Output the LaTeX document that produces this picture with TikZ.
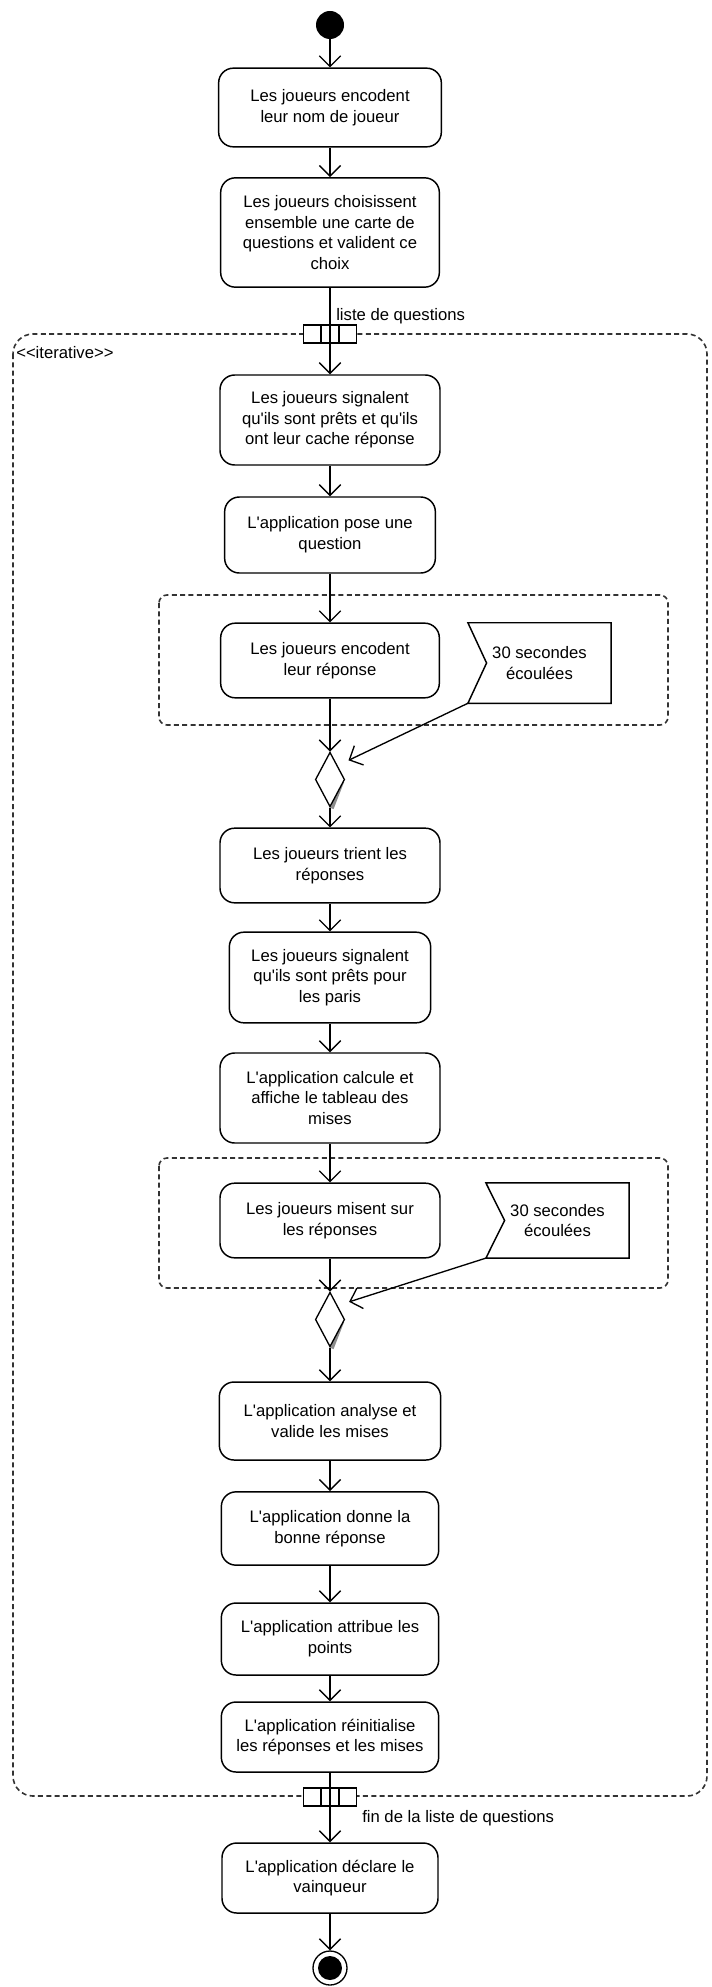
\documentclass[tikz,border=0pt]{standalone}
\usepackage{fontspec}
\setmainfont{Liberation Sans}
\usetikzlibrary{arrows.meta,shapes.geometric,calc}

\begin{document}
\begin{tikzpicture}[x=0.75pt,y=-0.75pt,
	font=\fontsize{12.5}{15.5}\selectfont,
	act/.style={draw,line width=1.1pt,rounded corners=11pt,align=center,inner sep=2pt},
	flow/.style={line width=1pt,-{Straight Barb[length=8pt,width=16pt]}},
	region/.style={draw=black!80,line width=1.2pt,dash pattern=on 3.75pt off 2.5pt},
	pinbox/.style={draw,line width=1pt,fill=white,minimum width=40pt,minimum height=13.5pt,inner sep=0pt},
	merge/.style={diamond,draw,line width=1pt,fill=white,minimum width=22pt,minimum height=41pt,inner sep=0pt},
	sigbox/.style={minimum width=107pt,align=center,inner sep=0pt},
	lbl/.style={anchor=west,inner sep=0pt}]
	\useasboundingbox (0,0) rectangle (711,1987);
	% regions
	\draw[region,rounded corners=15pt] (13,334) rectangle (707,1796);
	\draw[region,rounded corners=6pt] (159,595) rectangle (668,725);
	\draw[region,rounded corners=6pt] (159,1158) rectangle (668,1288);
	\node[lbl] (iter) at (16,353) {<{}<iterative>{}>};
	% actions
	\node[circle,fill,minimum size=21pt,inner sep=0pt] (start) at (330,25) {};
	\node[act,minimum width=167pt,minimum height=59pt] (a1) at (330,107.5) {Les joueurs encodent\\leur nom de joueur};
	\node[act,minimum width=164pt,minimum height=82pt] (a2) at (330,232.5) {Les joueurs choisissent\\ensemble une carte de\\questions et valident ce\\choix};
	\node[act,minimum width=165pt,minimum height=67.5pt] (a3) at (330,420) {Les joueurs signalent\\qu\textquotesingle ils sont prêts et qu\textquotesingle ils\\ont leur cache réponse};
	\node[act,minimum width=158pt,minimum height=57pt] (a4) at (330,535) {L\textquotesingle application pose une\\question};
	\node[act,minimum width=164pt,minimum height=56pt] (a5) at (330,660.5) {Les joueurs encodent\\leur réponse};
	\node[act,minimum width=165pt,minimum height=56pt] (a6) at (330,865.5) {Les joueurs trient les\\réponses};
	\node[act,minimum width=151pt,minimum height=68pt] (a7) at (330,977.5) {Les joueurs signalent\\qu\textquotesingle ils sont prêts pour\\les paris};
	\node[act,minimum width=165pt,minimum height=67.5pt] (a8) at (330,1098) {L\textquotesingle application calcule et\\affiche le tableau des\\mises};
	\node[act,minimum width=165pt,minimum height=56pt] (a9) at (330,1220.5) {Les joueurs misent sur\\les réponses};
	\node[act,minimum width=166pt,minimum height=58.5pt] (a10) at (330,1421) {L\textquotesingle application analyse et\\valide les mises};
	\node[act,minimum width=163pt,minimum height=55pt] (a11) at (330,1528.5) {L\textquotesingle application donne la\\bonne réponse};
	\node[act,minimum width=163pt,minimum height=54pt] (a12) at (330,1639) {L\textquotesingle application attribue les\\points};
	\node[act,minimum width=163pt,minimum height=52.5pt] (a13) at (330,1737) {L\textquotesingle application réinitialise\\les réponses et les mises};
	\node[act,minimum width=162pt,minimum height=52.5pt] (a14) at (330,1878) {L\textquotesingle application déclare le\\vainqueur};
	\node[circle,draw,line width=1pt,minimum size=25.5pt,inner sep=0pt] (stop) at (330,1968) {};
	\node[circle,fill,minimum size=18pt,inner sep=0pt] (stopdot) at (stop) {};
	% accept events
	\node[sigbox,minimum height=60pt] (s1) at (539.5,663) {30 secondes\\écoulées};
	\node[sigbox,minimum height=56pt] (s2) at (557.5,1220.5) {30 secondes\\écoulées};
	\foreach \s in {s1,s2}
		\draw[line width=1.1pt] (\s.north west) -- (\s.north east) -- (\s.south east) -- (\s.south west) -- ([xshift=14pt]\s.west) -- cycle;
	% merges
	\foreach \m/\y in {m1/779.5,m2/1319.5} {
		\coordinate (\m c) at (330,\y);
		\draw[black!45,line width=2.5pt] ($(\m c)+(12.5,2)$) -- ($(\m c)+(2,29)$);
		\node[merge] (\m) at (\m c) {};
	}
	% pins
	\node[pinbox] (p1) at (330,334) {};
	\node[pinbox] (p2) at (330,1797) {};
	\foreach \p in {p1,p2}
		\foreach \f in {1/3,2/3}
			\draw[line width=1pt] ($(\p.north west)!\f!(\p.north east)$) -- ($(\p.south west)!\f!(\p.south east)$);
	\node[lbl] (lq) at (336,316) {liste de questions};
	\node[lbl] (flq) at (362,1818) {fin de la liste de questions};
	% flows
	\draw[line width=1pt] (a2) -- (p1.center);
	\draw[line width=1pt] (a13) -- (p2.center);
	\foreach \a/\b in {start/a1,a1/a2,p1.center/a3,a3/a4,a4/a5,a5/m1,m1/a6,a6/a7,a7/a8,a8/a9,a9/m2,m2/a10,a10/a11,a11/a12,a12/a13,p2.center/a14,a14/stop}
		\draw[flow] (\a) -- (\b);
	\draw[flow,shorten >=9pt] (s1.south west) -- (m1.north east);
	\draw[flow,shorten >=9pt] (s2.south west) -- (m2.north east);
\end{tikzpicture}
\end{document}
